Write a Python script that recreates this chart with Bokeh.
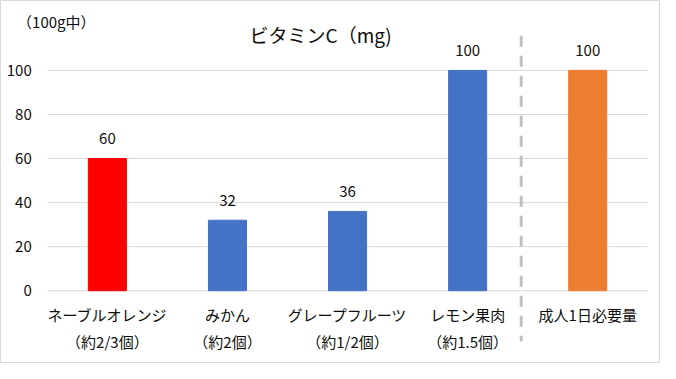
from bokeh.plotting import figure
from bokeh.models import Range1d, ColumnDataSource
from bokeh.core.properties import value
from bokeh.embed import file_html
from bokeh.resources import INLINE

# ---- data ----
names = ["ネーブルオレンジ", "みかん", "グレープフルーツ", "レモン果肉", "成人1日必要量"]
amounts = ["（約2/3個）", "（約2個）", "（約1/2個）", "（約1.5個）", ""]
vitamin_c = [60, 32, 36, 100, 100]
bar_colors = ["#FF0000", "#4472C4", "#4472C4", "#4472C4", "#ED7D31"]
y_ticks = [0, 20, 40, 60, 80, 100]
y_tick_labels = ["0", "20", "40", "60", "80", "100"]
title_text = "ビタミンC（mg)"
unit_text = "（100g中）"

FONT = value("Noto Sans CJK JP")
TXT = "#0d0d0d"
FS = "15px"

centers = [i + 0.5 for i in range(len(names))]

p = figure(width=660, height=363, output_backend="svg", toolbar_location=None,
           x_axis_location=None, y_axis_location=None,
           x_range=Range1d(-0.390, 5.106), y_range=Range1d(-33.04, 131.74),
           min_border=0, min_border_left=0, min_border_right=0,
           min_border_top=0, min_border_bottom=0)
p.grid.visible = False
p.outline_line_color = "#d9d9d9"
p.outline_line_width = 1
p.background_fill_color = "white"
p.border_fill_color = "white"

# gridlines
p.segment(x0=[0] * len(y_ticks), x1=[len(names)] * len(y_ticks), y0=y_ticks, y1=y_ticks,
          line_color="#d9d9d9", line_width=1)

# y tick labels
p.text(x=[-0.13] * len(y_ticks), y=y_ticks, text=y_tick_labels, text_align="right",
       text_baseline="middle", text_font=FONT, text_font_size=FS, text_color=TXT)

# separator dashed line
p.line(x=[3.946, 3.946], y=[115.7, -23.0], line_color="#c0c0c0", line_width=3,
       line_dash="11 9")

# bars
src = ColumnDataSource(dict(x=centers, top=vitamin_c, color=bar_colors,
                            lab=[str(v) for v in vitamin_c],
                            ly=[v + 9 for v in vitamin_c],
                            n=names, a=amounts))
p.vbar(x="x", top="top", width=0.317, color="color", source=src)

# value labels
p.text(x="x", y="ly", text="lab", source=src, text_align="center", text_baseline="middle",
       text_font=FONT, text_font_size=FS, text_color=TXT)

# category labels (two lines)
p.text(x="x", y=-11.0, text="n", source=src, text_align="center",
       text_baseline="middle", text_font=FONT, text_font_size=FS, text_color=TXT)
p.text(x="x", y=-23.0, text="a", source=src, text_align="center",
       text_baseline="middle", text_font=FONT, text_font_size=FS, text_color=TXT)

# title and unit
p.text(x=[2.276], y=[116.5], text=[title_text], text_align="center", text_baseline="middle",
       text_font=FONT, text_font_size="19px", text_color=TXT)
p.text(x=[-0.252], y=[122.2], text=[unit_text], text_align="left", text_baseline="middle",
       text_font=FONT, text_font_size=FS, text_color=TXT)

open("out.html", "w").write(file_html(p, INLINE))
